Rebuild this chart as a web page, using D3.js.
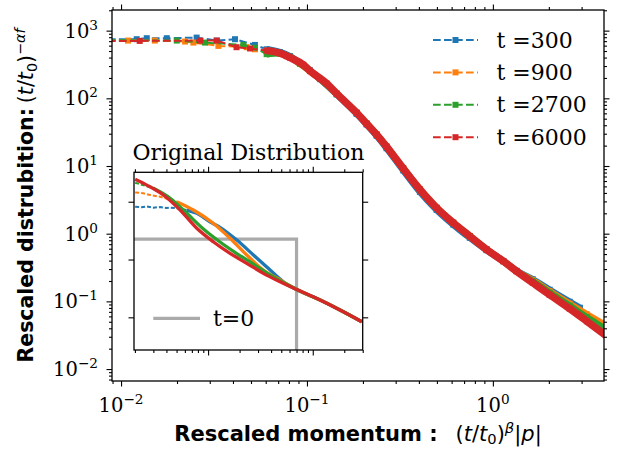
<!DOCTYPE html>
<html>
<head>
<meta charset="utf-8">
<script src="https://cdn.jsdelivr.net/npm/d3@7"></script>
<style>
  body { margin: 0; background: #fff; }
  svg text { font-family: "DejaVu Serif", serif; fill: #000; }
</style>
</head>
<body>
<svg id="chart" width="618" height="449"></svg>
<script>
// ---- data ----
const seriesNames = ["t =300", "t =900", "t =2700", "t =6000"];
const colors = ["#1f77b4", "#ff7f0e", "#2ca02c", "#d62728"];

// rescaled momentum vs rescaled distribution, [x, y]
const rescaled300 = [[0.0085,745],[0.01214,747],[0.01375,773],[0.01762,773],[0.0255,789],[0.0327,713],[0.0410,747],[0.0525,615],[0.0607,530],[0.0716,481],[0.0810,420],[0.0917,330],[0.1038,258],[0.1175,192],[0.1445,114],[0.185,59],[0.2095,41],[0.237,28],[0.268,18.3],[0.3296,8.6],[0.405,4.15],[0.498,2.25],[0.612,1.36],[0.751,0.87],[0.924,0.57],[1.136,0.392],[1.34,0.284],[1.64,0.212],[2.02,0.1485],[2.59,0.0988],[2.94,0.0805]];
const rescaled900 = [[0.0085,715],[0.0109,713],[0.0152,713],[0.0221,690],[0.0245,666],[0.0334,595],[0.0474,569],[0.0525,530],[0.0607,505],[0.0716,462],[0.0810,405],[0.0917,323],[0.1038,252],[0.1175,194],[0.1445,117],[0.185,61.2],[0.2095,42.2],[0.237,29.1],[0.268,19.3],[0.3296,9.17],[0.405,4.49],[0.498,2.41],[0.612,1.45],[0.751,0.92],[0.924,0.586],[1.136,0.394],[1.34,0.281],[1.64,0.205],[2.02,0.141],[2.59,0.0923],[3.20,0.0646],[4.2,0.042]];
const rescaled2700 = [[0.0085,720],[0.01994,713],[0.0283,666],[0.0455,615],[0.0525,560],[0.0607,449],[0.0716,465],[0.0810,405],[0.0917,325],[0.1038,255],[0.1175,194],[0.1445,117],[0.185,61.2],[0.2095,42.2],[0.237,29.1],[0.268,19.3],[0.3296,9.17],[0.405,4.49],[0.498,2.41],[0.612,1.45],[0.751,0.92],[0.924,0.586],[1.136,0.394],[1.34,0.28],[1.64,0.198],[2.02,0.134],[2.59,0.0863],[3.20,0.0583],[4.2,0.0365]];
const rescaled6000 = [[0.0085,700],[0.0126,705],[0.0266,713],[0.0327,713],[0.0418,569],[0.0494,545],[0.0607,507],[0.0716,465],[0.0810,400],[0.0955,313],[0.1038,255],[0.1277,165],[0.1445,117],[0.185,61.2],[0.2095,42.2],[0.237,29.1],[0.268,19.3],[0.3296,9.17],[0.405,4.49],[0.498,2.41],[0.612,1.45],[0.751,0.92],[0.924,0.586],[1.136,0.394],[1.34,0.279],[1.64,0.188],[2.02,0.125],[2.59,0.078],[3.20,0.0509],[4.2,0.029]];

// inset: original distribution, [p, f]
const original300 = [[0.0201,0.82],[0.0230,0.80],[0.0260,0.83],[0.0300,0.79],[0.0348,0.81],[0.0400,0.78],[0.0434,0.79],[0.0502,0.77],[0.0541,0.76],[0.0626,0.718],[0.078,0.63],[0.104,0.451],[0.130,0.361],[0.188,0.217],[0.271,0.120],[0.391,0.0658],[0.524,0.0413],[0.703,0.0303],[1.175,0.0199],[1.82,0.0134],[2.94,0.0084]];
const original900 = [[0.0201,1.45],[0.0240,1.40],[0.0279,1.31],[0.0348,1.22],[0.0502,1.0],[0.0724,0.718],[0.112,0.423],[0.162,0.233],[0.234,0.120],[0.337,0.0658],[0.487,0.0442],[0.703,0.0303],[1.175,0.0199],[1.82,0.0134],[2.94,0.0084]];
const original2700 = [[0.0201,2.13],[0.0300,1.71],[0.0434,1.15],[0.0626,0.630],[0.0902,0.337],[0.130,0.201],[0.188,0.127],[0.271,0.0836],[0.391,0.054],[0.703,0.0303],[1.175,0.0199],[1.82,0.0134],[2.94,0.0084]];
const original6000 = [[0.0201,2.44],[0.0260,1.94],[0.0374,1.31],[0.0541,0.718],[0.078,0.347],[0.112,0.203],[0.162,0.128],[0.234,0.086],[0.337,0.0577],[0.487,0.0413],[0.703,0.0303],[1.175,0.0199],[1.82,0.0134],[2.94,0.0084]];
const originalT0 = [[0.0150,0.226],[0.70,0.226],[0.70,0.0010]];

const xMajor = [0.01, 0.1, 1];
const xMajorExp = ["\u22122", "\u22121", "0"];
const yMajor = [0.01, 0.1, 1, 10, 100, 1000];
const yMajorExp = ["\u22122", "\u22121", "0", "1", "2", "3"];
const insetXMajor = [0.1, 1];
const insetYMajor = [0.01, 0.1, 1];

// ---- layout ----
const svg = d3.select("#chart");
const main = { left: 112, right: 604, top: 10, bottom: 381 };
const inset = { left: 134, right: 362.7, top: 172.3, bottom: 350 };

const x = d3.scaleLog().domain([0.00894, 3.96]).range([main.left, main.right]);
const y = d3.scaleLog().domain([0.00666, 2018]).range([main.bottom, main.top]);
const ix = d3.scaleLog().domain([0.0196, 3.0]).range([inset.left, inset.right]);
const iy = d3.scaleLog().domain([0.00272, 3.23]).range([inset.bottom, inset.top]);

const rescaled = [rescaled300, rescaled900, rescaled2700, rescaled6000];
const original = [original300, original900, original2700, original6000];
const insetDashUntil = [0.06, 0.045, 0.025, 0.02];   // where the inset curves stop looking dashed
const bandFrom = 0.06;                                // main curves turn into a dense band

function logMinors(domain) {
  const out = [];
  for (let e = Math.floor(Math.log10(domain[0])); e <= Math.ceil(Math.log10(domain[1])); e++) {
    for (let k = 2; k <= 9; k++) {
      const v = +(k * Math.pow(10, e)).toPrecision(6);
      if (v >= domain[0] && v <= domain[1] * 1.0001) out.push(v);
    }
  }
  return out;
}

const defs = svg.append("defs");
defs.append("clipPath").attr("id", "clipMain").append("rect")
  .attr("x", main.left).attr("y", main.top)
  .attr("width", main.right - main.left).attr("height", main.bottom - main.top);
defs.append("clipPath").attr("id", "clipInset").append("rect")
  .attr("x", inset.left).attr("y", inset.top)
  .attr("width", inset.right - inset.left).attr("height", inset.bottom - inset.top);

// ---- main curves ----
const line = d3.line().x(d => x(d[0])).y(d => y(d[1]));
const smooth = d3.line().x(d => x(d[0])).y(d => y(d[1])).curve(d3.curveMonotoneX);
const plot = svg.append("g").attr("clip-path", "url(#clipMain)");

rescaled.forEach((data, i) => {
  const g = plot.append("g");
  g.append("path")
    .attr("d", line(data))
    .attr("fill", "none")
    .attr("stroke", colors[i])
    .attr("stroke-width", 2)
    .attr("stroke-dasharray", "7.7,3.3");
  const k = data.findIndex(d => d[0] >= bandFrom);
  g.append("path")
    .attr("d", smooth(data.slice(k)))
    .attr("fill", "none")
    .attr("stroke", colors[i])
    .attr("stroke-width", i === 3 ? 7.5 : 6.5)
    .attr("stroke-linejoin", "round");
  g.selectAll("rect")
    .data(data)
    .join("rect")
    .attr("x", d => x(d[0]) - 3)
    .attr("y", d => y(d[1]) - 3)
    .attr("width", 6)
    .attr("height", 6)
    .attr("fill", colors[i]);
});

// ---- ticks ----
function tickSet(axisFn, scale, values, size, transform) {
  svg.append("g")
    .attr("transform", transform)
    .call(axisFn(scale).tickValues(values).tickSize(size).tickSizeOuter(0).tickFormat(""))
    .call(g => g.select(".domain").remove())
    .call(g => g.selectAll("line").attr("stroke", "#000").attr("stroke-width", 1.1));
}

tickSet(d3.axisBottom, x, xMajor, 5.5, `translate(0,${main.bottom})`);
tickSet(d3.axisBottom, x, logMinors(x.domain()), 3, `translate(0,${main.bottom})`);
tickSet(d3.axisTop, x, xMajor, 5.5, `translate(0,${main.top})`);
tickSet(d3.axisTop, x, logMinors(x.domain()), 3, `translate(0,${main.top})`);
tickSet(d3.axisLeft, y, yMajor, 5.5, `translate(${main.left},0)`);
tickSet(d3.axisLeft, y, logMinors(y.domain()), 3, `translate(${main.left},0)`);
tickSet(d3.axisRight, y, yMajor, 5.5, `translate(${main.right},0)`);
tickSet(d3.axisRight, y, logMinors(y.domain()), 3, `translate(${main.right},0)`);

svg.append("rect")
  .attr("x", main.left).attr("y", main.top)
  .attr("width", main.right - main.left).attr("height", main.bottom - main.top)
  .attr("fill", "none").attr("stroke", "#000").attr("stroke-width", 1.3);

function powLabel(sel, exp) {
  sel.append("tspan").text("10");
  sel.append("tspan").attr("dy", -8).attr("font-size", "0.7em").text(exp);
}

xMajor.forEach((v, i) => {
  svg.append("text")
    .attr("x", x(v)).attr("y", 411.5)
    .attr("text-anchor", "middle")
    .attr("font-size", 19.5)
    .call(powLabel, xMajorExp[i]);
});
yMajor.forEach((v, i) => {
  svg.append("text")
    .attr("x", 98).attr("y", y(v) + 7)
    .attr("text-anchor", "end")
    .attr("font-size", 19.5)
    .call(powLabel, yMajorExp[i]);
});

// ---- axis labels ----
const yLab = svg.append("text")
  .attr("transform", `translate(33,${(main.top + main.bottom) / 2}) rotate(-90)`)
  .attr("text-anchor", "middle")
  .attr("font-size", 20.5)
  .style("font-family", "'DejaVu Sans', sans-serif");
yLab.append("tspan").attr("font-weight", "bold").text("Rescaled distrubition:");
yLab.append("tspan").attr("dx", 5).text("(");
yLab.append("tspan").attr("font-style", "italic").text("t");
yLab.append("tspan").text("/");
yLab.append("tspan").attr("font-style", "italic").text("t");
yLab.append("tspan").attr("dy", 4).attr("font-size", "0.7em").text("0");
yLab.append("tspan").attr("dy", -4).text(")");
yLab.append("tspan").attr("dy", -8).attr("font-size", "0.7em").attr("font-style", "italic").text("\u2212\u03b1f");

const xLab = svg.append("text")
  .attr("x", (main.left + main.right) / 2).attr("y", 441)
  .attr("text-anchor", "middle")
  .attr("font-size", 21)
  .style("font-family", "'DejaVu Sans', sans-serif");
xLab.append("tspan").attr("font-weight", "bold").text("Rescaled momentum :");
xLab.append("tspan").attr("dx", 18).text("(");
xLab.append("tspan").attr("font-style", "italic").text("t");
xLab.append("tspan").text("/");
xLab.append("tspan").attr("font-style", "italic").text("t");
xLab.append("tspan").attr("dy", 3).attr("font-size", "0.7em").text("0");
xLab.append("tspan").attr("dy", -3).text(")");
xLab.append("tspan").attr("dy", -8).attr("font-size", "0.7em").attr("font-style", "italic").text("\u03b2");
xLab.append("tspan").attr("dy", 8).text("|");
xLab.append("tspan").attr("font-style", "italic").text("p");
xLab.append("tspan").text("|");

// ---- legend ----
const legend = svg.append("g");
seriesNames.forEach((name, i) => {
  const ly = 40 + i * 32.4;
  legend.append("line")
    .attr("x1", 433).attr("x2", 478).attr("y1", ly).attr("y2", ly)
    .attr("stroke", colors[i]).attr("stroke-width", 2)
    .attr("stroke-dasharray", "7.7,3.3");
  legend.append("rect")
    .attr("x", 452.5).attr("y", ly - 3).attr("width", 6).attr("height", 6)
    .attr("fill", colors[i]);
  legend.append("text")
    .attr("x", 496.5).attr("y", ly + 7.5)
    .attr("font-size", 22)
    .text(name);
});

// ---- inset ----
svg.append("rect")
  .attr("x", inset.left).attr("y", inset.top)
  .attr("width", inset.right - inset.left).attr("height", inset.bottom - inset.top)
  .attr("fill", "#fff");

const iline = d3.line().x(d => ix(d[0])).y(d => iy(d[1]));
const ismooth = d3.line().x(d => ix(d[0])).y(d => iy(d[1])).curve(d3.curveMonotoneX);
const iplot = svg.append("g").attr("clip-path", "url(#clipInset)");

iplot.append("path")
  .attr("d", iline(originalT0))
  .attr("fill", "none")
  .attr("stroke", "#aaaaaa")
  .attr("stroke-width", 3.2);

original.forEach((data, i) => {
  const k = Math.max(0, data.findIndex(d => d[0] >= insetDashUntil[i]));
  iplot.append("path")
    .attr("d", iline(data.slice(0, k + 1)))
    .attr("fill", "none")
    .attr("stroke", colors[i])
    .attr("stroke-width", 2)
    .attr("stroke-dasharray", "4,2");
  iplot.append("path")
    .attr("d", ismooth(data.slice(k)))
    .attr("fill", "none")
    .attr("stroke", colors[i])
    .attr("stroke-width", 3.3)
    .attr("stroke-linejoin", "round");
});

tickSet(d3.axisBottom, ix, insetXMajor, 5.5, `translate(0,${inset.bottom})`);
tickSet(d3.axisBottom, ix, logMinors(ix.domain()), 3, `translate(0,${inset.bottom})`);
tickSet(d3.axisTop, ix, insetXMajor, 5.5, `translate(0,${inset.top})`);
tickSet(d3.axisTop, ix, logMinors(ix.domain()), 3, `translate(0,${inset.top})`);
tickSet(d3.axisLeft, iy, insetYMajor, 5.5, `translate(${inset.left},0)`);
tickSet(d3.axisRight, iy, insetYMajor, 5.5, `translate(${inset.right},0)`);

svg.append("rect")
  .attr("x", inset.left).attr("y", inset.top)
  .attr("width", inset.right - inset.left).attr("height", inset.bottom - inset.top)
  .attr("fill", "none").attr("stroke", "#000").attr("stroke-width", 1.3);

svg.append("text")
  .attr("x", (inset.left + inset.right) / 2).attr("y", 159.5)
  .attr("text-anchor", "middle")
  .attr("font-size", 22)
  .text("Original Distribution");

svg.append("line")
  .attr("x1", 153.3).attr("x2", 200).attr("y1", 318.3).attr("y2", 318.3)
  .attr("stroke", "#aaaaaa").attr("stroke-width", 3.2);
svg.append("text")
  .attr("x", 213).attr("y", 325.8)
  .attr("font-size", 22)
  .text("t=0");
</script>
</body>
</html>
